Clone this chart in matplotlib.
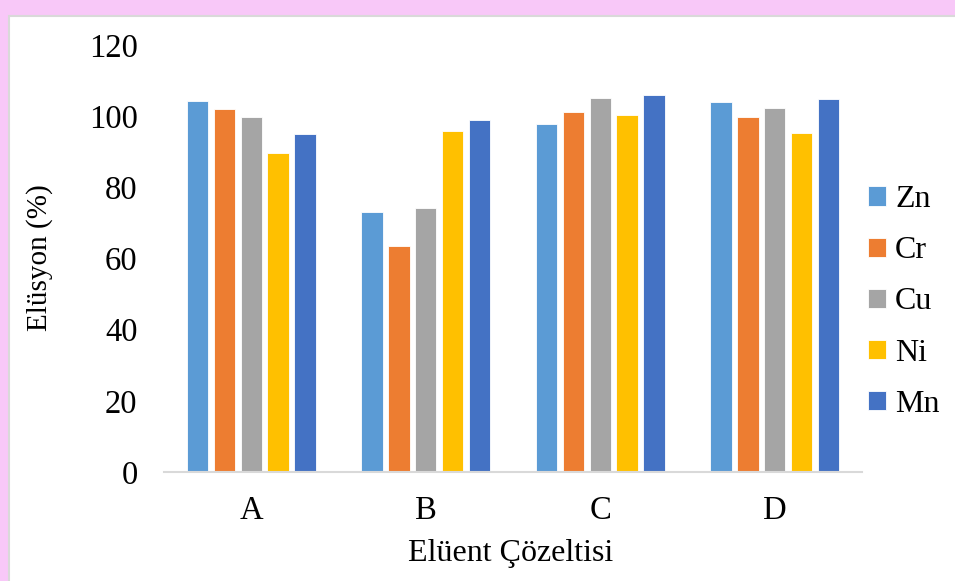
import numpy as np
import matplotlib
matplotlib.use("Agg")
from matplotlib import pyplot as plt
from matplotlib.patches import Rectangle

# elution (%) per eluent solution
categories = ["A", "B", "C", "D"]
metals = ["Zn", "Cr", "Cu", "Ni", "Mn"]
zn = [104.2, 73.2, 97.7, 104.0]
cr = [102.1, 63.4, 101.2, 99.9]
cu = [99.8, 74.2, 105.2, 102.4]
ni = [89.6, 95.9, 100.3, 95.2]
mn = [95.0, 99.0, 105.9, 104.7]
yticks = [0, 20, 40, 60, 80, 100, 120]

colors = ["#5B9BD5", "#ED7D31", "#A5A5A5", "#FFC000", "#4472C4"]

plt.rcParams["font.family"] = ["Liberation Serif", "DejaVu Serif"]

fig = plt.figure(figsize=(9.55, 5.81), dpi=100)
fig.patch.set_facecolor("#F8C8F8")

# white panel with a thin grey frame, kept behind the axes
panel = Rectangle((9 / 955, -0.05), 1.0, (581 - 16) / 581 + 0.05,
                  transform=fig.transFigure, facecolor="white",
                  edgecolor="#D9D9D9", linewidth=1.5, zorder=-1)
fig.patches.append(panel)

ax = fig.add_axes([164 / 955, (581 - 472) / 581, (862 - 164) / 955, (472 - 45) / 581])
ax.set_facecolor("none")

x = np.arange(len(categories))
pitch = 0.154
width = 0.122
series = [zn, cr, cu, ni, mn]
for i, (name, vals, c) in enumerate(zip(metals, series, colors)):
    ax.bar(x + (i - 2) * pitch, vals, width, color=c, label=name,
           edgecolor="white", linewidth=0.6)

ax.set_xlim(-0.5, 3.5)
ax.set_ylim(0, 120)
ax.set_yticks(yticks)
ax.set_xticks(x)
ax.set_xticklabels(categories)
ax.tick_params(axis="both", length=0, labelsize=23.5, colors="black")
ax.tick_params(axis="y", pad=19)
ax.tick_params(axis="x", pad=17)
for s in ["top", "right", "left"]:
    ax.spines[s].set_visible(False)
ax.spines["bottom"].set_color("#D9D9D9")
ax.spines["bottom"].set_linewidth(1.5)

fig.text(40 / 955, 1 - 258 / 581, "Elüsyon (%)", rotation=90,
         ha="center", va="center", fontsize=21)
fig.text(511 / 955, 1 - 553 / 581, "Elüent Çözeltisi",
         ha="center", va="center", fontsize=23)

leg = fig.legend(loc="center left", bbox_to_anchor=(868 / 955, 1 - 302 / 581),
                 frameon=False, fontsize=23, handlelength=0.55, handleheight=0.55,
                 handletextpad=0.3, labelspacing=0.69, borderpad=0,
                 borderaxespad=0)

fig.savefig("out.png", dpi=100, facecolor=fig.get_facecolor())
